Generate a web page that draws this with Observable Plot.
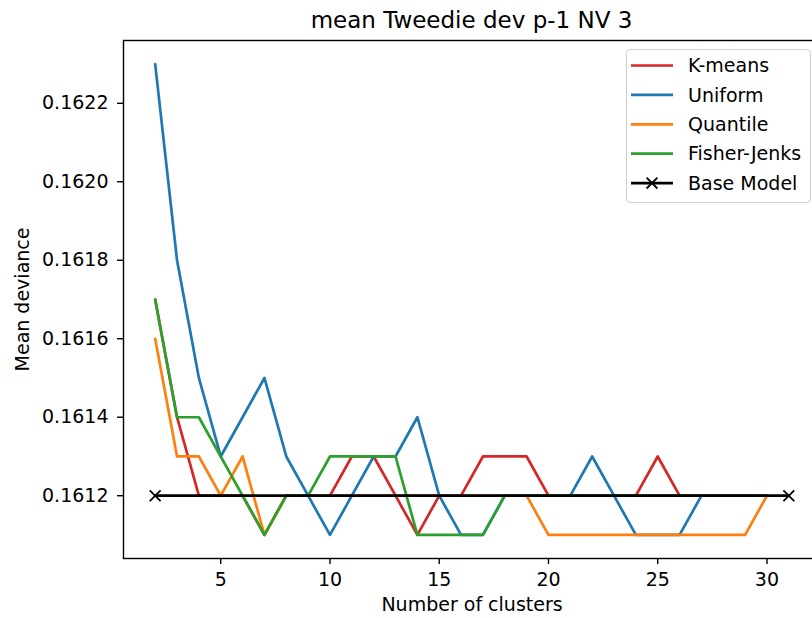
<!DOCTYPE html>
<html><head><meta charset="utf-8">
<script src="https://cdn.jsdelivr.net/npm/d3@7"></script>
<script src="https://cdn.jsdelivr.net/npm/@observablehq/plot@0.6"></script>
<style>
body{margin:0;background:#fff;}
#wrap{position:relative;width:812px;height:618px;overflow:hidden;font-family:"DejaVu Sans",sans-serif;color:#000;}
#title{position:absolute;top:6px;left:123px;width:697px;text-align:center;font-size:23px;line-height:28px;white-space:nowrap;}
#legend{position:absolute;left:626px;top:49px;width:183px;height:152px;border:1px solid #d0d0d0;border-radius:4px;background:rgba(255,255,255,0.8);}
#chart{position:absolute;left:0;top:0;width:821px;height:618px;}
#chart svg{max-width:none !important;}
</style>
</head><body>
<div id="wrap">
  <div id="chart"></div>
  <div id="title">mean Tweedie dev p-1 NV 3</div>
  <div id="legend"></div>
</div>
<script>
const titleText = "mean Tweedie dev p-1 NV 3";
const xLabel = "Number of clusters";
const yLabel = "Mean deviance";
const clusters = [2,3,4,5,6,7,8,9,10,11,12,13,14,15,16,17,18,19,20,21,22,23,24,25,26,27,28,29,30];
const kmeans   = [0.1617,0.1614,0.1612,0.1612,0.1612,0.1611,0.1612,0.1612,0.1612,0.1613,0.1613,0.1612,0.1611,0.1612,0.1612,0.1613,0.1613,0.1613,0.1612,0.1612,0.1612,0.1612,0.1612,0.1613,0.1612,0.1612,0.1612,0.1612,0.1612];
const uniform  = [0.1623,0.1618,0.1615,0.1613,0.1614,0.1615,0.1613,0.1612,0.1611,0.1612,0.1613,0.1613,0.1614,0.1612,0.1611,0.1611,0.1612,0.1612,0.1612,0.1612,0.1613,0.1612,0.1611,0.1611,0.1611,0.1612,0.1612,0.1612,0.1612];
const quantile = [0.1616,0.1613,0.1613,0.1612,0.1613,0.1611,0.1612,0.1612,0.1612,0.1612,0.1612,0.1612,0.1612,0.1612,0.1612,0.1612,0.1612,0.1612,0.1611,0.1611,0.1611,0.1611,0.1611,0.1611,0.1611,0.1611,0.1611,0.1611,0.1612];
const fisher   = [0.1617,0.1614,0.1614,0.1613,0.1612,0.1611,0.1612,0.1612,0.1613,0.1613,0.1613,0.1613,0.1611,0.1611,0.1611,0.1611,0.1612,0.1612,0.1612,0.1612,0.1612,0.1612,0.1612,0.1612,0.1612,0.1612,0.1612,0.1612,0.1612];
const baseClusters = [2,31];
const baseValues = [0.1612,0.1612];
const seriesNames = ["K-means","Uniform","Quantile","Fisher-Jenks","Base Model"];
const seriesColors = ["#d62728","#1f77b4","#ff7f0e","#2ca02c","#000000"];
const xTicks = [5,10,15,20,25,30];
const yTicks = [0.1612,0.1614,0.1616,0.1618,0.1620,0.1622];

const seriesValues = [kmeans, uniform, quantile, fisher];
const lineMarks = seriesValues.map((vals, si) =>
  Plot.line(clusters.map((k, i) => ({k, v: vals[i]})), {x: "k", y: "v", stroke: seriesColors[si], strokeWidth: 2.7})
);
const baseData = baseClusters.map((k, i) => ({k, v: baseValues[i]}));
const timesSymbol = {
  draw(context, size) {
    const h = Math.sqrt(size / Math.PI);
    context.moveTo(-h, -h); context.lineTo(h, h);
    context.moveTo(h, -h); context.lineTo(-h, h);
  }
};

const chart = Plot.plot({
  width: 821, height: 618,
  marginLeft: 123, marginRight: 1, marginTop: 40, marginBottom: 60,
  style: {fontFamily: "DejaVu Sans", fontSize: "19px", color: "#000", background: "transparent", maxWidth: "none"},
  x: {domain: [0.55, 32.45]},
  y: {domain: [0.16104, 0.16236]},
  marks: [
    ...lineMarks,
    Plot.line(baseData, {x: "k", y: "v", stroke: seriesColors[4], strokeWidth: 2.7}),
    Plot.dot(baseData, {x: "k", y: "v", symbol: timesSymbol, r: 5.4, stroke: "#000", strokeWidth: 1.8, fill: "none"}),
    Plot.frame({stroke: "#000", strokeWidth: 1.4}),
    Plot.axisX({ticks: xTicks, tickSize: 6, tickPadding: 8, strokeWidth: 1.4, label: xLabel, labelAnchor: "center", labelArrow: "none", labelOffset: 52}),
    Plot.axisY({ticks: yTicks, tickFormat: d3.format(".4f"), tickSize: 6, tickPadding: 9, strokeWidth: 1.4, label: yLabel, labelAnchor: "center", labelArrow: "none", labelOffset: 108})
  ]
});
document.getElementById("chart").appendChild(chart);
document.getElementById("title").textContent = titleText;

// legend
const lg = d3.select("#legend").append("svg").attr("width", 183).attr("height", 152).style("overflow", "visible");
seriesNames.forEach((name, i) => {
  const y = 15.5 + i * 29.4;
  lg.append("line").attr("x1", 4).attr("x2", 46).attr("y1", y).attr("y2", y)
    .attr("stroke", seriesColors[i]).attr("stroke-width", 2.7);
  if (i === 4) {
    const h = 5.4;
    lg.append("path").attr("d", `M${25 - h},${y - h}L${25 + h},${y + h}M${25 + h},${y - h}L${25 - h},${y + h}`)
      .attr("stroke", "#000").attr("stroke-width", 1.8).attr("fill", "none");
  }
  lg.append("text").attr("x", 61).attr("y", y).attr("dy", "0.35em")
    .attr("font-family", "DejaVu Sans").attr("font-size", 19).attr("fill", "#000").text(name);
});
</script>
</body></html>
